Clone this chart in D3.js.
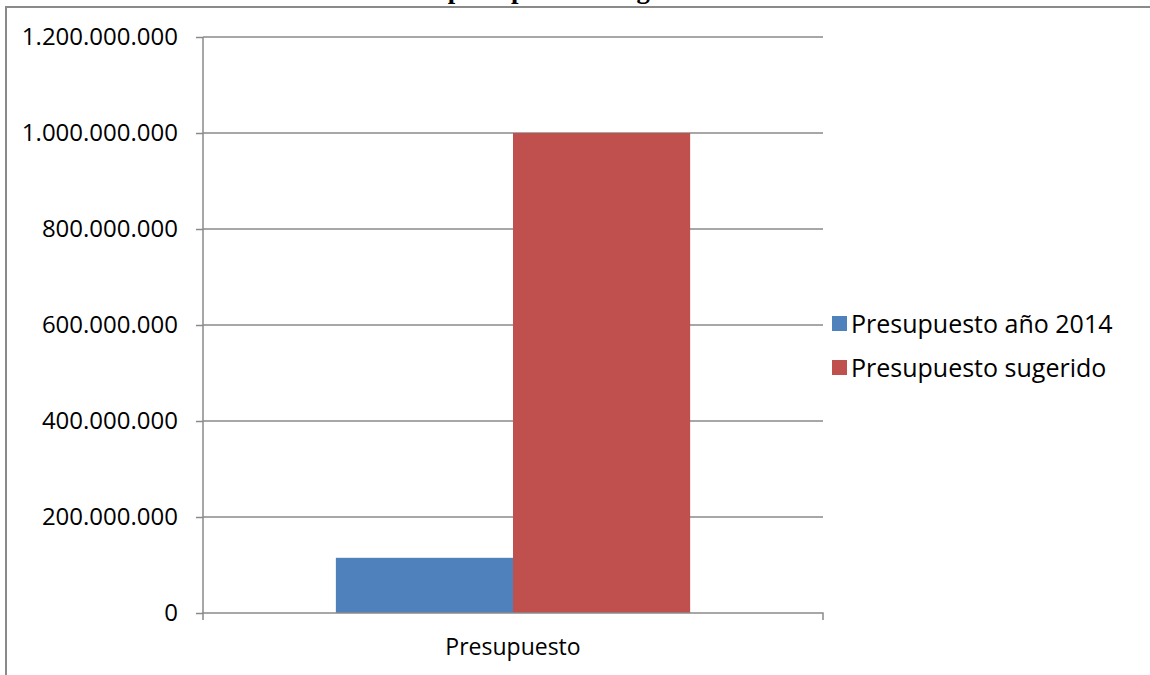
<!DOCTYPE html>
<html>
<head>
<meta charset="utf-8">
<style>
body { margin: 0; background: #fff; }
svg { display: block; }
.tick text { font-family: "Open Sans", sans-serif; fill: #000; }
</style>
</head>
<body>
<svg width="1150" height="675"></svg>
<script src="https://d3js.org/d3.v7.min.js"></script>
<script>

// data
var categories = ["Presupuesto"];
var seriesNames = ["Presupuesto año 2014", "Presupuesto sugerido"];
var seriesValues = [115000000, 1000000000];
var seriesColors = ["#4F81BD", "#C0504D"];
var yTicks = [0, 200000000, 400000000, 600000000, 800000000, 1000000000, 1200000000];
var titleText = "presupuesto designado";

var svg = d3.select("svg"),
    width = +svg.attr("width"),
    height = +svg.attr("height");

var margin = {top: 37, left: 203, right: 327, bottom: 62};

var fmt = d3.formatLocale({decimal: ",", thousands: ".", grouping: [3], currency: ["$", ""]}).format(",");

// chart frame (right and bottom edges fall outside the picture)
svg.append("rect")
    .attr("x", 6)
    .attr("y", 7)
    .attr("width", 1200)
    .attr("height", 700)
    .attr("fill", "none")
    .attr("stroke", "#8a8a8a")
    .attr("stroke-width", 2);

// title, mostly cut off at the top
svg.append("text")
    .attr("x", width / 2 + 2)
    .attr("y", -2)
    .attr("text-anchor", "middle")
    .attr("font-family", "'Liberation Serif', serif")
    .attr("font-weight", "bold")
    .attr("font-size", "26.7px")
    .text(titleText);

var y = d3.scaleLinear()
    .domain([0, 1200000000])
    .range([height - margin.bottom, margin.top]);

var x0 = d3.scaleBand()
    .domain(categories)
    .range([margin.left, width - margin.right])
    .padding(0);

var x1 = d3.scaleBand()
    .domain(seriesNames)
    .range([0, x0.bandwidth()])
    .paddingInner(0)
    .paddingOuter(0.75);

// gridlines
svg.append("g")
    .selectAll("line")
    .data(yTicks.slice(1))
    .enter().append("line")
    .attr("x1", margin.left)
    .attr("x2", width - margin.right)
    .attr("y1", function(d) { return y(d); })
    .attr("y2", function(d) { return y(d); })
    .attr("stroke", "#8a8a8a")
    .attr("stroke-width", 1.5);

// bars
var cat = svg.append("g")
    .selectAll("g")
    .data(categories)
    .enter().append("g")
    .attr("transform", function(d) { return "translate(" + x0(d) + ",0)"; });

cat.selectAll("rect")
    .data(seriesNames.map(function(s, i) { return {name: s, value: seriesValues[i], color: seriesColors[i]}; }))
    .enter().append("rect")
    .attr("x", function(d) { return x1(d.name); })
    .attr("width", x1.bandwidth())
    .attr("y", function(d) { return y(d.value); })
    .attr("height", function(d) { return y(0) - y(d.value); })
    .attr("fill", function(d) { return d.color; });

// y axis
var yAxis = svg.append("g")
    .attr("transform", "translate(" + margin.left + ",0)")
    .call(d3.axisLeft(y).tickValues(yTicks).tickFormat(fmt).tickSize(7).tickPadding(18));
yAxis.selectAll("line, path").attr("stroke", "#8a8a8a").attr("stroke-width", 1.5);
yAxis.selectAll(".tick text").attr("font-size", "24px");
yAxis.select(".domain").attr("d", "M0," + y(0) + "V" + y(1200000000));

// x axis
var xAxis = svg.append("g")
    .attr("transform", "translate(0," + y(0) + ")")
    .call(d3.axisBottom(x0).tickSize(0).tickPadding(30));
xAxis.select(".domain").attr("stroke", "#8a8a8a").attr("stroke-width", 1.5)
    .attr("d", "M" + margin.left + ",7V0H" + (width - margin.right) + "V7");
xAxis.selectAll(".tick text").attr("font-size", "23px").attr("dy", "0.71em").attr("y", 26);

// legend
var legend = svg.append("g")
    .selectAll("g")
    .data(seriesNames)
    .enter().append("g")
    .attr("transform", function(d, i) { return "translate(832," + (324 + i * 44) + ")"; });

legend.append("rect")
    .attr("x", 0)
    .attr("y", -8)
    .attr("width", 15)
    .attr("height", 15)
    .attr("fill", function(d, i) { return seriesColors[i]; });

legend.append("text")
    .attr("x", 19)
    .attr("dy", "0.35em")
    .attr("font-family", "'Open Sans', sans-serif")
    .attr("font-size", "25px")
    .text(function(d) { return d; });

</script>
</body>
</html>
